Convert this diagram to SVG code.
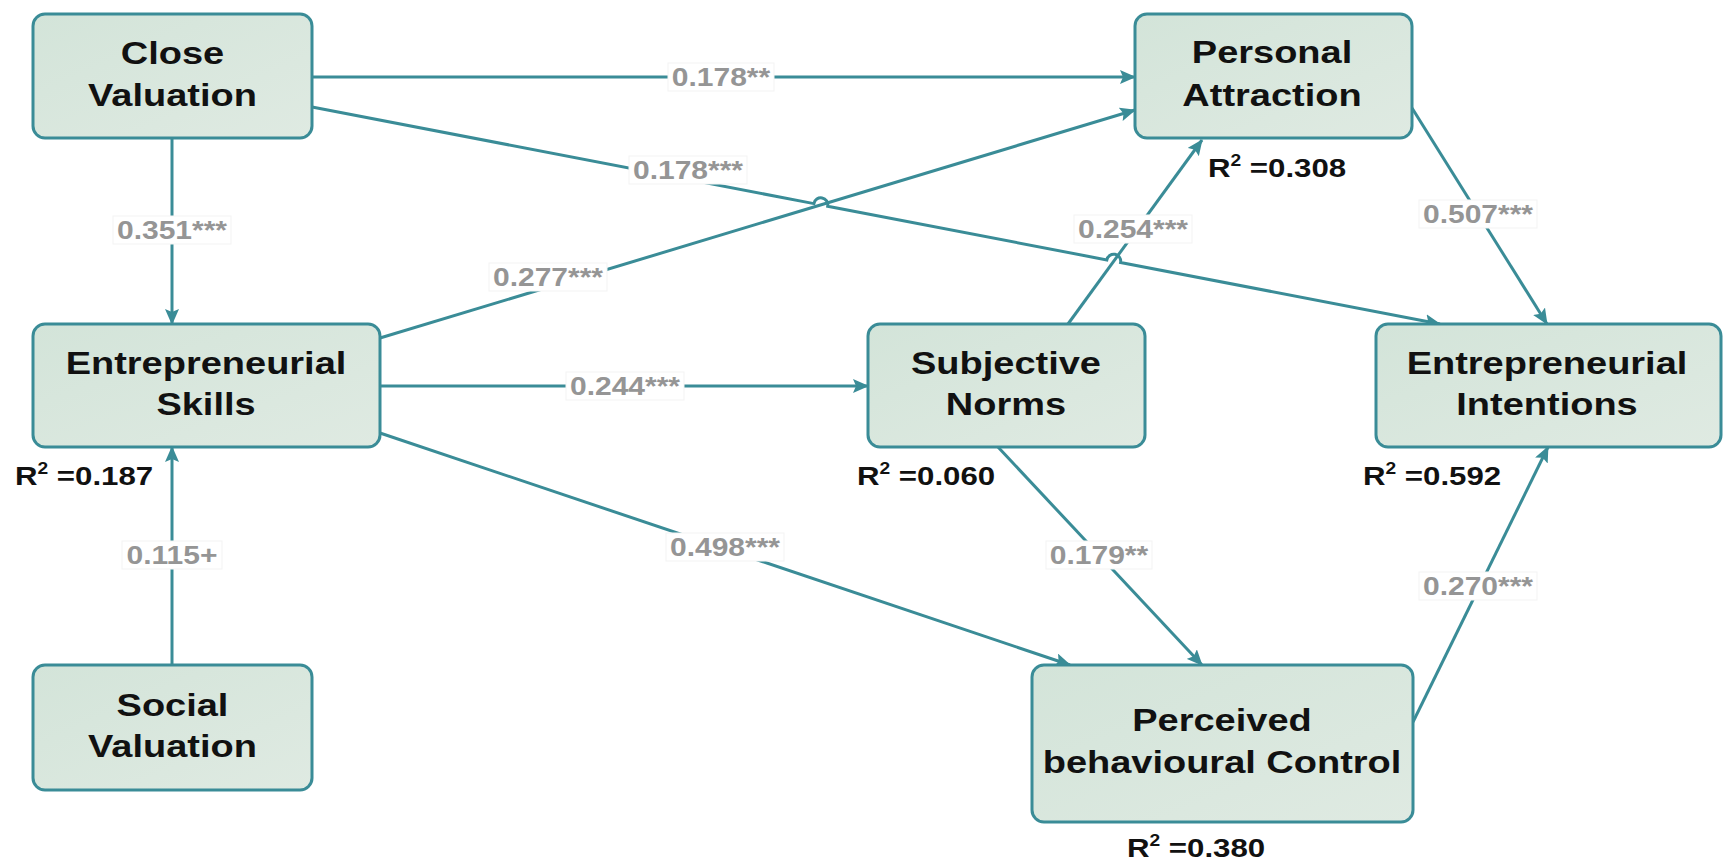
<svg xmlns="http://www.w3.org/2000/svg" width="1731" height="860" viewBox="0 0 1731 860">
  <defs>
    <linearGradient id="boxFill" x1="0" y1="0" x2="1" y2="1">
      <stop offset="0" stop-color="#d3e4d9"/>
      <stop offset="1" stop-color="#dfeae2"/>
    </linearGradient>
    <marker id="arrow" viewBox="0 0 16 14" refX="15" refY="7" markerWidth="16" markerHeight="14" markerUnits="userSpaceOnUse" orient="auto">
      <path d="M0,0 L16,7 L0,14 L3,7 z" fill="#3a8c97"/>
    </marker>
    <style>
      .box { fill: url(#boxFill); stroke: #3a8c97; stroke-width: 3; }
      .nt { font-family: "Liberation Sans", Arial, sans-serif; font-weight: bold; font-size: 31px; fill: #111; text-anchor: middle; }
      .r2 { font-family: "Liberation Sans", Arial, sans-serif; font-weight: bold; font-size: 26px; fill: #111; }
      .sup { font-size: 16px; }
      .edge { fill: none; stroke: #3a8c97; stroke-width: 3; marker-end: url(#arrow); }
      .lbg { fill: #ffffff; stroke: #f3f3f3; stroke-width: 1; }
      .lt { font-family: "Liberation Sans", Arial, sans-serif; font-weight: bold; font-size: 25px; fill: #959595; text-anchor: middle; }
    </style>
  </defs>

  <rect width="1731" height="860" fill="#ffffff"/>

  <!-- paths between constructs -->
  <g id="connectors">
    <path class="edge" d="M312,77 L1135,77"/>
    <path class="edge" d="M312,107 L813.9,203.6 A7,7 0 0 1 827.7,206.2 L1106.8,259.9 A7,7 0 0 1 1120.6,262.5 L1440,324"/>
    <path class="edge" d="M172,138 L172,324"/>
    <path class="edge" d="M172,665 L172,447"/>
    <path class="edge" d="M380,338 L1135,110"/>
    <path class="edge" d="M380,386 L868,386"/>
    <path class="edge" d="M380,433 L1070,665"/>
    <path class="edge" d="M1068,324 L1202,140"/>
    <path class="edge" d="M998,447 L1202,665"/>
    <path class="edge" d="M1412,108 L1547,324"/>
    <path class="edge" d="M1413,722 L1548,447"/>

    <!-- path coefficients -->
    <g id="coefficients">
      <rect class="lbg" x="668" y="63" width="106" height="28"/>
      <text class="lt" transform="translate(721,0) scale(1.2,1)" x="0" y="86">0.178**</text>

      <rect class="lbg" x="629" y="156" width="118" height="28"/>
      <text class="lt" transform="translate(688,0) scale(1.2,1)" x="0" y="179">0.178***</text>

      <rect class="lbg" x="113" y="216" width="118" height="28"/>
      <text class="lt" transform="translate(172,0) scale(1.2,1)" x="0" y="239">0.351***</text>

      <rect class="lbg" x="122" y="541" width="100" height="28"/>
      <text class="lt" transform="translate(172,0) scale(1.2,1)" x="0" y="564">0.115+</text>

      <rect class="lbg" x="489" y="263" width="118" height="28"/>
      <text class="lt" transform="translate(548,0) scale(1.2,1)" x="0" y="286">0.277***</text>

      <rect class="lbg" x="566" y="372" width="118" height="28"/>
      <text class="lt" transform="translate(625,0) scale(1.2,1)" x="0" y="395">0.244***</text>

      <rect class="lbg" x="666" y="533" width="118" height="28"/>
      <text class="lt" transform="translate(725,0) scale(1.2,1)" x="0" y="556">0.498***</text>

      <rect class="lbg" x="1074" y="215" width="118" height="28"/>
      <text class="lt" transform="translate(1133,0) scale(1.2,1)" x="0" y="238">0.254***</text>

      <rect class="lbg" x="1046" y="541" width="106" height="28"/>
      <text class="lt" transform="translate(1099,0) scale(1.2,1)" x="0" y="564">0.179**</text>

      <rect class="lbg" x="1419" y="200" width="118" height="28"/>
      <text class="lt" transform="translate(1478,0) scale(1.2,1)" x="0" y="223">0.507***</text>

      <rect class="lbg" x="1419" y="572" width="118" height="28"/>
      <text class="lt" transform="translate(1478,0) scale(1.2,1)" x="0" y="595">0.270***</text>
    </g>
  </g>

  <g id="close-valuation">
    <rect class="box" x="33" y="14" width="279" height="124" rx="12"/>
    <text class="nt" transform="translate(172.5,0) scale(1.225,1)"><tspan x="0" y="64">Close</tspan><tspan x="0" y="106">Valuation</tspan></text>
  </g>

  <g id="personal-attraction">
    <rect class="box" x="1135" y="14" width="277" height="124" rx="12"/>
    <text class="nt" transform="translate(1272,0) scale(1.225,1)"><tspan x="0" y="63">Personal</tspan><tspan x="0" y="106">Attraction</tspan></text>
    <text class="r2" transform="translate(1208,0) scale(1.2,1)" x="0" y="177">R<tspan class="sup" dy="-11">2</tspan><tspan dy="11"> =0.308</tspan></text>
  </g>

  <g id="entrepreneurial-skills">
    <rect class="box" x="33" y="324" width="347" height="123" rx="12"/>
    <text class="nt" transform="translate(206,0) scale(1.225,1)"><tspan x="0" y="374">Entrepreneurial</tspan><tspan x="0" y="415">Skills</tspan></text>
    <text class="r2" transform="translate(15,0) scale(1.2,1)" x="0" y="485">R<tspan class="sup" dy="-11">2</tspan><tspan dy="11"> =0.187</tspan></text>
  </g>

  <g id="subjective-norms">
    <rect class="box" x="868" y="324" width="277" height="123" rx="12"/>
    <text class="nt" transform="translate(1006,0) scale(1.225,1)"><tspan x="0" y="374">Subjective</tspan><tspan x="0" y="415">Norms</tspan></text>
    <text class="r2" transform="translate(857,0) scale(1.2,1)" x="0" y="485">R<tspan class="sup" dy="-11">2</tspan><tspan dy="11"> =0.060</tspan></text>
  </g>

  <g id="entrepreneurial-intentions">
    <rect class="box" x="1376" y="324" width="345" height="123" rx="12"/>
    <text class="nt" transform="translate(1547,0) scale(1.225,1)"><tspan x="0" y="374">Entrepreneurial</tspan><tspan x="0" y="415">Intentions</tspan></text>
    <text class="r2" transform="translate(1363,0) scale(1.2,1)" x="0" y="485">R<tspan class="sup" dy="-11">2</tspan><tspan dy="11"> =0.592</tspan></text>
  </g>

  <g id="social-valuation">
    <rect class="box" x="33" y="665" width="279" height="125" rx="12"/>
    <text class="nt" transform="translate(172.5,0) scale(1.225,1)"><tspan x="0" y="716">Social</tspan><tspan x="0" y="757">Valuation</tspan></text>
  </g>

  <g id="perceived-behavioural-control">
    <rect class="box" x="1032" y="665" width="381" height="157" rx="12"/>
    <text class="nt" transform="translate(1222,0) scale(1.225,1)"><tspan x="0" y="731">Perceived</tspan><tspan x="0" y="773">behavioural Control</tspan></text>
    <text class="r2" transform="translate(1127,0) scale(1.2,1)" x="0" y="857">R<tspan class="sup" dy="-11">2</tspan><tspan dy="11"> =0.380</tspan></text>
  </g>
</svg>
